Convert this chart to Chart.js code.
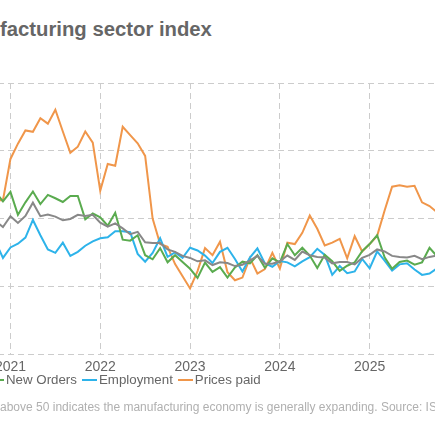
<!DOCTYPE html>
<html><head><meta charset="utf-8">
<script src="https://cdn.jsdelivr.net/npm/chart.js@4"></script>
<style>
html,body{margin:0;padding:0;width:435px;height:435px;overflow:hidden;background:#fff;font-family:"Liberation Sans",Arial,sans-serif;position:relative}
.t{position:absolute;white-space:nowrap}
.pre{position:absolute;right:100%;top:0;white-space:nowrap}
.ln{display:inline-block;width:15px;height:2px;vertical-align:middle;margin:0 2px 0 5px}
#wrap{position:absolute;left:-17px;top:81px;width:459px;height:300px}
</style></head><body>
<div class="t" style="left:0;top:18px;font-size:20.3px;font-weight:bold;color:#666"><span class="pre">ISM manu</span>facturing sector index</div>
<div id="wrap"><canvas id="c"></canvas></div>
<div class="t" style="left:6px;top:372px;font-size:13.3px;color:#666"><span class="pre"><span class="ln" style="background:#888"></span>PMI<span class="ln" style="background:#5aab4f"></span></span>New Orders<span class="ln" style="background:#2db3ea"></span>Employment<span class="ln" style="background:#f0964a"></span>Prices paid</div>
<div class="t" style="left:0;top:400px;font-size:12px;color:#b0b0b0"><span class="pre">Note: A reading&nbsp;</span>above 50 indicates the manufacturing economy is generally expanding. Source: ISM</div>
<script>
// release months (each value is the previous month's reading)
const months = [];
for (let y = 2020, m = 10; !(y === 2025 && m === 11); ) {
  months.push(y + '-' + String(m).padStart(2, '0'));
  m++; if (m > 12) { m = 1; y++; }
}
const pmi = [55.4,59.3,57.5,60.7,58.7,60.8,64.7,60.7,61.2,60.6,59.5,59.9,61.1,60.8,61.1,58.8,57.6,58.6,57.1,55.4,56.1,53.0,52.8,52.8,50.9,50.2,49.0,48.4,47.4,47.7,46.3,47.1,46.9,46.0,46.4,47.6,49.0,46.7,46.7,47.4,49.1,47.8,50.3,49.2,48.7,48.5,46.8,47.2,47.2,46.5,48.4,49.3,50.9,50.3,49.0,48.7,48.5,49.0,48.0,48.7,49.1];
const newOrders = [60.2,67.9,65.1,67.9,61.1,64.8,68.0,64.3,67.0,66.0,64.9,66.7,66.7,59.8,61.5,60.4,57.9,61.7,53.8,53.5,55.1,49.2,48.0,51.3,47.1,49.2,47.2,45.2,42.5,47.0,44.3,45.7,42.6,45.6,47.3,46.8,49.2,45.5,48.3,47.1,52.5,49.2,51.4,49.1,45.4,49.3,47.4,44.6,46.1,47.1,50.4,52.5,55.1,48.6,45.2,47.2,47.6,46.4,47.1,51.4,48.9];
const employment = [49.6,53.2,48.4,51.5,52.6,54.4,59.6,55.1,50.9,49.9,52.9,49.0,50.2,52.0,53.3,54.2,54.5,56.3,56.3,56.0,49.6,47.3,49.9,54.2,48.7,50.0,48.4,51.4,50.6,49.1,46.9,50.2,51.4,48.1,44.4,48.5,51.2,46.8,45.8,47.5,47.1,45.9,47.4,48.6,51.1,49.3,43.4,46.0,43.9,44.4,48.1,45.3,50.3,47.6,44.7,46.5,46.8,45.0,43.4,43.8,45.3];
const pricesPaid = [62.8,65.5,65.4,77.6,82.1,86.0,85.6,89.6,88.0,92.1,85.7,79.4,81.2,85.7,82.4,68.2,76.1,75.6,87.1,84.6,82.2,78.5,60.0,52.5,51.7,46.6,43.0,39.4,44.5,51.3,49.2,53.2,44.2,41.8,42.6,48.4,43.8,45.1,49.9,45.2,52.9,52.5,55.8,60.9,57.0,52.1,52.9,54.0,48.3,54.8,50.3,52.5,54.9,62.4,69.4,69.8,69.4,69.7,64.8,63.7,61.9];
const yTicks = [20,40,60,80,100];
const isJan = i => months[i] && months[i].endsWith('-01');
const ds = (label, data, color) => ({label, data, borderColor: color, backgroundColor: color, borderWidth: 2, pointRadius: 0, tension: 0, fill: false});
new Chart(document.getElementById('c'), {
  type: 'line',
  data: { labels: months, datasets: [
    ds('PMI', pmi, '#888888'),
    ds('New Orders', newOrders, '#5aab4f'),
    ds('Employment', employment, '#2db3ea'),
    ds('Prices paid', pricesPaid, '#f0964a')
  ]},
  options: {
    responsive: true, maintainAspectRatio: false, animation: false,
    layout: { padding: { top: 2, left: 0, right: 0, bottom: 0 } },
    plugins: { legend: { display: false }, tooltip: { enabled: false } },
    scales: {
      x: {
        offset: false,
        grid: { drawTicks: false, color: c => isJan(c.index) ? '#cccccc' : 'rgba(0,0,0,0)', lineWidth: 1 },
        border: { display: false, dash: [6, 4] },
        ticks: { autoSkip: false, maxRotation: 0, padding: 5, color: '#666', font: { family: 'Liberation Sans', size: 14 },
          callback: (v, i) => isJan(i) ? months[i].slice(0, 4) : '' }
      },
      y: {
        min: 20, max: 100,
        afterBuildTicks: a => { a.ticks = yTicks.map(v => ({value: v})); },
        border: { display: false, dash: [6, 4] },
        grid: { drawTicks: false, color: '#cccccc' },
        ticks: { display: false }
      }
    }
  }
});
</script>
</body></html>
